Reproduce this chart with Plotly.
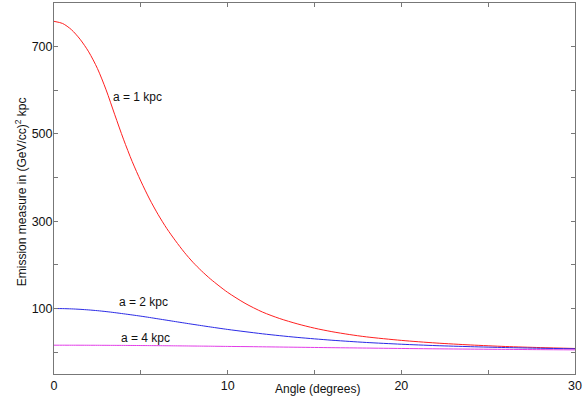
import plotly.graph_objects as go

angles = [0, 0.5, 1, 1.5, 2, 2.5, 3, 3.5, 4, 4.5, 5, 5.5, 6, 6.5, 7, 7.5, 8, 8.5, 9, 9.5, 10,
          11, 12, 13, 14, 15, 16, 17, 18, 20, 22, 24, 26, 28, 30]
em_a1 = [758, 753, 739, 717, 688, 650, 601, 544, 488, 437, 392, 351, 315, 283, 255, 229, 206,
         186, 168, 152, 137,
         112, 92, 77, 65, 55, 47, 40.5, 35, 27, 21, 16.5, 13, 10.5, 8.5]
em_a2 = [100, 99.8, 99.2, 98.2, 96.8, 95.1, 93, 90.6, 88, 85.3, 82.5, 79.5, 76.3, 73.2, 70,
         66.9, 63.8, 60.8, 57.8, 54.9, 52.1,
         47, 42.1, 37.8, 33.9, 30.5, 27.4, 24.7, 22.2, 18.2, 15, 12.6, 10.6, 9, 7.7]
em_a4 = [16, 15.99, 15.97, 15.93, 15.87, 15.8, 15.7, 15.6, 15.5, 15.35, 15.2, 15.05, 14.9,
         14.7, 14.5, 14.3, 14.1, 13.9, 13.7, 13.45, 13.2,
         12.8, 12.3, 11.8, 11.3, 10.8, 10.3, 9.9, 9.4, 8.5, 7.7, 7.0, 6.4, 5.8, 5.3]

series_labels = ["a = 1 kpc", "a = 2 kpc", "a = 4 kpc"]
label_x = [4.78, 5.18, 5.26]
label_y = [585, 114, 33]

x_tickvals = [0, 10, 20, 30]
y_tickvals = [100, 300, 500, 700]

FONT = "Liberation Sans, Arial, Helvetica, sans-serif"

fig = go.Figure()
for ys, col in zip([em_a1, em_a2, em_a4], ["#ff2020", "#2a2ae6", "#e23ce8"]):
    fig.add_trace(go.Scatter(x=angles, y=ys, mode="lines",
                             line=dict(color=col, width=1, shape="spline", smoothing=0.8),
                             showlegend=False, hoverinfo="skip"))

for t, xx, yy in zip(series_labels, label_x, label_y):
    fig.add_annotation(x=xx, y=yy, xref="x", yref="y", text=t, showarrow=False,
                       font=dict(family=FONT, size=12, color="#111111"))

fig.add_annotation(x=0.505, y=0, xref="paper", yref="paper", yshift=-15,
                   text="Angle (degrees)", showarrow=False, yanchor="middle",
                   font=dict(family=FONT, size=12, color="#111111"))
fig.add_annotation(x=0, y=0.49, xref="paper", yref="paper", xshift=-33,
                   text="Emission measure in (GeV/cc)<sup>2</sup> kpc", showarrow=False,
                   textangle=-90, xanchor="center", yanchor="middle",
                   font=dict(family=FONT, size=12, color="#111111"))

axis_common = dict(showgrid=False, zeroline=False, showline=True, linecolor="#777777",
                   linewidth=1, mirror="ticks", ticks="inside", ticklen=4, tickwidth=1,
                   tickcolor="#777777", ticklabeloverflow="allow",
                   tickfont=dict(family=FONT, size=12.5, color="#111111"))

fig.update_xaxes(range=[0, 30], tickmode="array", tickvals=x_tickvals,
                 minor=dict(tickmode="linear", tick0=0, dtick=5, ticks="inside", ticklen=4,
                            tickcolor="#777777", showgrid=False),
                 **axis_common)
fig.update_yaxes(range=[-50, 800], tickmode="array", tickvals=y_tickvals,
                 ticklabelstandoff=-2,
                 minor=dict(tickmode="linear", tick0=0, dtick=100, ticks="inside", ticklen=4,
                            tickcolor="#777777", showgrid=False),
                 **axis_common)

fig.update_layout(width=584, height=402, margin=dict(l=54, r=6, t=2, b=28),
                  paper_bgcolor="white", plot_bgcolor="white",
                  font=dict(family=FONT, size=12, color="#111111"))

fig.write_html("out.html", config={"displayModeBar": False},
               post_script="document.body.style.margin='0';")
